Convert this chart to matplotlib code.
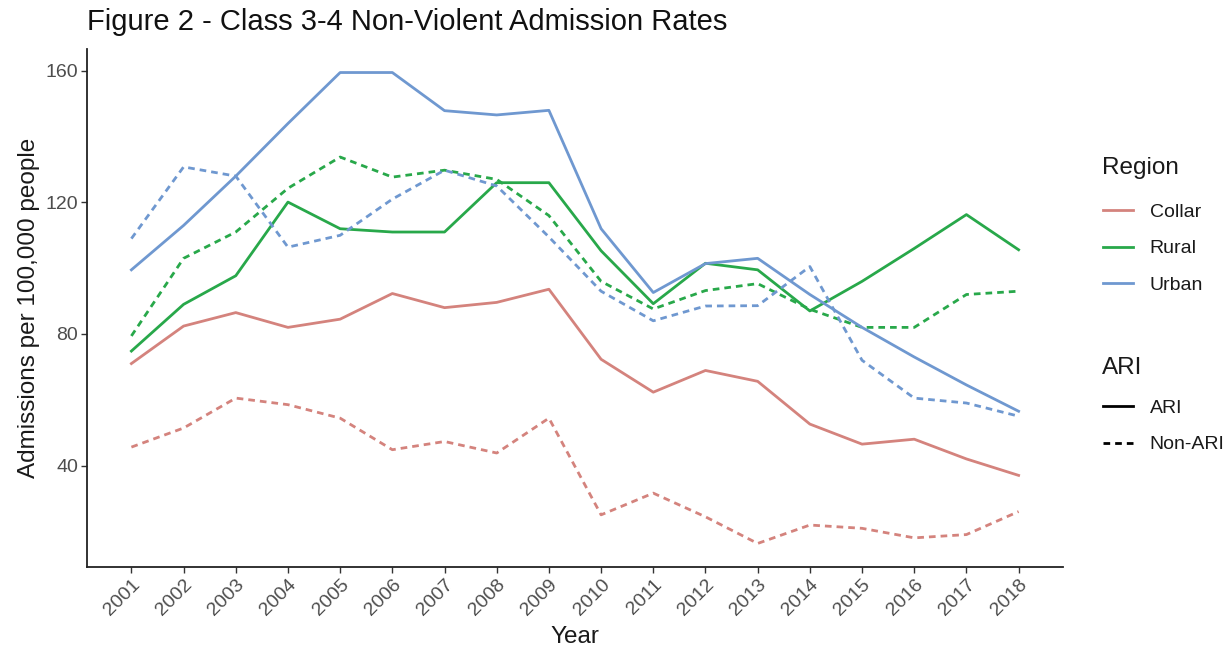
import matplotlib
matplotlib.use('Agg')
import matplotlib.pyplot as plt
from matplotlib.lines import Line2D
import numpy as np

plt.rcParams['font.family'] = ['Liberation Sans', 'DejaVu Sans']

years = list(range(2001, 2019))
regions = ['Collar', 'Rural', 'Urban']
colors = {'Collar': '#d4837d', 'Rural': '#28a84a', 'Urban': '#6f98d0'}

# ARI series (solid)
collar_ari = [71, 82.4, 86.5, 82, 84.5, 92.3, 88, 89.6, 93.6, 72.3, 62.3, 68.9, 65.6, 52.6, 46.5, 48, 42, 37]
rural_ari = [74.8, 89, 97.7, 120.1, 112, 111, 111, 126, 126, 105.3, 89.2, 101.5, 99.5, 87, 96, 106, 116.3, 105.6]
urban_ari = [99.5, 113, 128, 144, 159.5, 159.5, 147.9, 146.6, 148, 112, 92.6, 101.4, 103, 92, 82, 73, 64.5, 56.5]

# Non-ARI series (dashed)
collar_non = [45.6, 51.4, 60.5, 58.5, 54.4, 44.8, 47.3, 43.8, 54.4, 25, 31.6, 24.4, 16.3, 21.9, 20.9, 18, 19, 26]
rural_non = [79.4, 103, 111, 124.3, 133.8, 127.7, 129.8, 127, 116, 96, 87.6, 93.2, 95.3, 87.5, 82, 82, 92, 93]
urban_non = [109, 130.8, 128, 106.4, 110, 121, 129.8, 125, 109.5, 93, 84, 88.5, 88.6, 100.5, 72, 60.5, 59, 55]

ari = {'Collar': collar_ari, 'Rural': rural_ari, 'Urban': urban_ari}
non_ari = {'Collar': collar_non, 'Rural': rural_non, 'Urban': urban_non}

fig = plt.figure(figsize=(12.31, 6.53), dpi=100)
ax = fig.add_axes([0.0707, 0.1317, 0.7928, 0.7933])

lw = 2.0
dash = (0, (2.4, 1.8))
for r in regions:
    ax.plot(years, ari[r], color=colors[r], lw=lw, solid_joinstyle='round')
    ax.plot(years, non_ari[r], color=colors[r], lw=lw, linestyle=dash)

# ggplot style limits (5% expansion)
allv = np.concatenate([np.array(v) for v in list(ari.values()) + list(non_ari.values())])
lo, hi = allv.min(), allv.max()
pad = (hi - lo) * 0.05
ax.set_ylim(lo - pad, hi + pad)
ax.set_xlim(years[0] - 0.85, years[-1] + 0.85)

ax.set_yticks([40, 80, 120, 160])
ax.set_xticks(years)
ax.set_xticklabels([str(y) for y in years], rotation=45, ha='right', rotation_mode='anchor')
ax.tick_params(axis='both', colors='#333333', labelcolor='#4d4d4d', labelsize=14, length=4.5, width=1)
ax.tick_params(axis='x', pad=2)
ax.tick_params(axis='y', pad=2)

for s in ['top', 'right']:
    ax.spines[s].set_visible(False)
for s in ['left', 'bottom']:
    ax.spines[s].set_linewidth(1.3)
    ax.spines[s].set_color('#222222')

ax.set_xlabel('Year', fontsize=17.5, color='#1a1a1a', labelpad=5)
ax.set_ylabel('Admissions per 100,000 people', fontsize=17.5, color='#1a1a1a', labelpad=4)

fig.text(0.0707, 0.966, 'Figure 2 - Class 3-4 Non-Violent Admission Rates',
         fontsize=21, color='#111111', ha='left', va='center')

# legends (titles drawn separately to match ggplot spacing)
fig.text(0.8952, 0.7427, 'Region', fontsize=17.5, color='#1a1a1a', ha='left', va='center')
fig.text(0.8952, 0.4364, 'ARI', fontsize=17.5, color='#1a1a1a', ha='left', va='center')

region_handles = [Line2D([], [], color=colors[r], lw=lw) for r in regions]
leg1 = fig.legend(region_handles, regions, loc='upper left',
                  bbox_to_anchor=(0.885, 0.7097), frameon=False, fontsize=14,
                  handlelength=1.55, labelspacing=0.98,
                  handletextpad=0.85, borderpad=0.2)
ari_handles = [Line2D([], [], color='black', lw=lw),
               Line2D([], [], color='black', lw=lw, linestyle=dash)]
leg2 = fig.legend(ari_handles, ['ARI', 'Non-ARI'], loc='upper left',
                  bbox_to_anchor=(0.885, 0.4097), frameon=False, fontsize=14,
                  handlelength=1.55, labelspacing=0.98,
                  handletextpad=0.85, borderpad=0.2)
for t in leg1.get_texts() + leg2.get_texts():
    t.set_color('#1a1a1a')

fig.savefig('out.png', dpi=100)
